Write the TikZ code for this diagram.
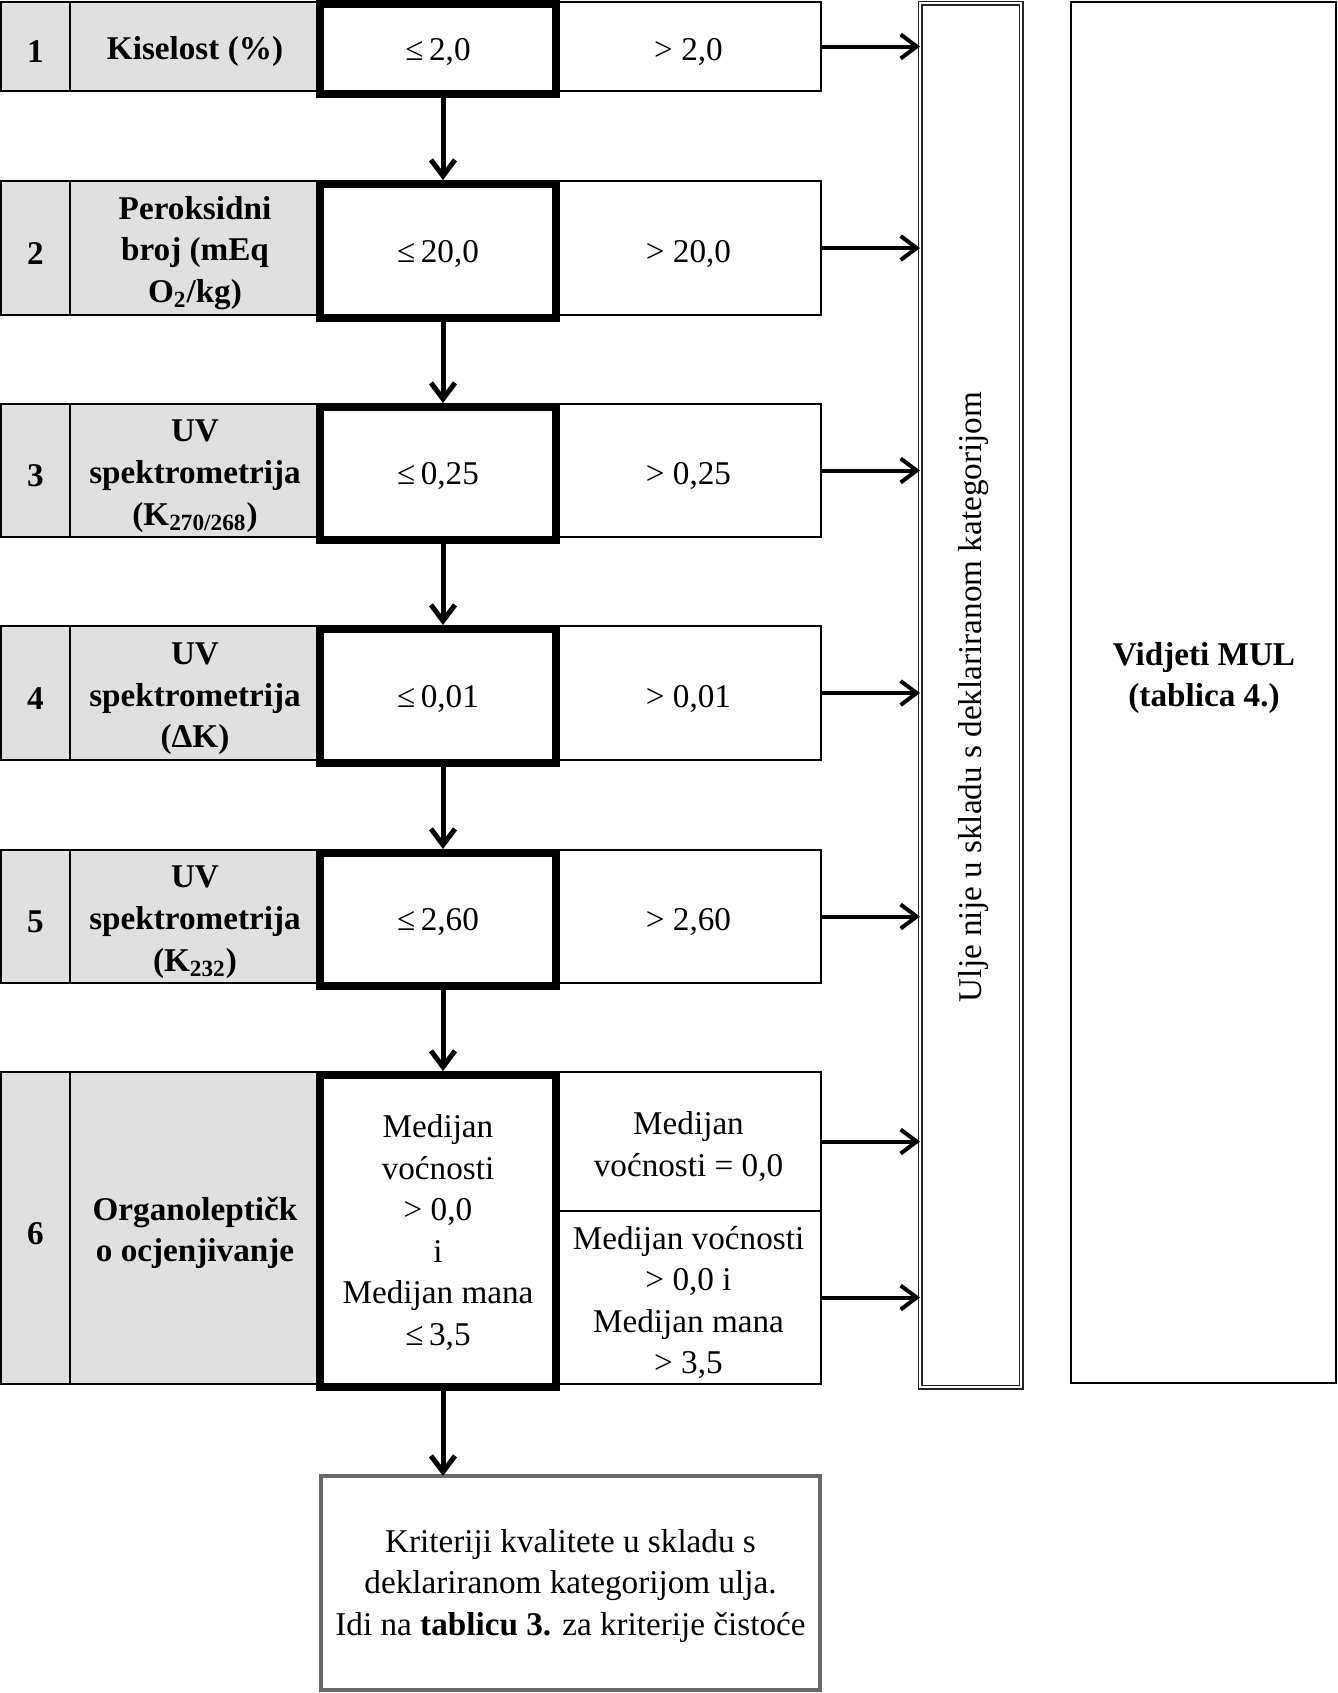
\documentclass[tikz,border=0pt]{standalone}
\usepackage{fontspec}
\setmainfont{Liberation Serif}
\usetikzlibrary{arrows.meta}
\definecolor{cellgray}{RGB}{224,224,224}
\definecolor{boxgray}{RGB}{105,105,105}
\newcommand\mkcell[7]{\node[#6, minimum width={((#4)-(#2))*0.5pt}, minimum height={((#5)-(#3))*0.5pt}] (#1) at ({((#2)+(#4))/2},{((#3)+(#5))/2}) {#7};}
\newcommand\cellstrut{\rule[-0.6pt]{0pt}{17.6pt}}
\newcommand\passstrut{\rule[-0.6pt]{0pt}{14.6pt}}
\newcommand\mls{\rule{0pt}{16.6pt}}
\begin{document}
\begin{tikzpicture}[x=0.5pt,y=-0.5pt,
  every node/.style={font=\fontsize{16.6}{20.8}\selectfont, inner sep=0pt, outer sep=0pt, align=center},
  std/.style={execute at begin node=\cellstrut, execute at end node=\cellstrut},
  numcell/.style={std, draw, line width=1pt, fill=cellgray, font=\fontsize{16.6}{20.8}\selectfont\bfseries},
  labcell/.style={numcell},
  failcell/.style={std, draw, line width=1pt, fill=white},
  passcell/.style={draw, line width=4pt, fill=white, outer sep=2pt,
    execute at begin node=\passstrut, execute at end node=\passstrut},
  tallbox/.style={draw=black!85, double, double distance=1.3pt, line width=0.6pt},
  sidebox/.style={draw, line width=1pt},
  endbox/.style={draw=boxgray, line width=2pt},
  downarr/.style={line width=2.5pt, -{Straight Barb[length=8pt,width=12pt]}},
  sidearr/.style={line width=2pt, -{Straight Barb[length=8pt,width=12pt]}},
]
\useasboundingbox (0,0) rectangle (1338,1693);

% right boxes
\mkcell{tall}{920}{3}{1021}{1387}{tallbox}{}
\node[rotate=90] (tallt) at (974,697) {Ulje nije u skladu s deklariranom kategorijom};
\mkcell{mul}{1071}{2}{1336}{1383}{sidebox}{}
\node[font=\fontsize{16.6}{20.8}\selectfont\bfseries] (mult) at (1204,673) {\mls Vidjeti MUL\\(tablica 4.)};

% row 1
\mkcell{n1}{1}{2}{70}{91}{numcell}{1}
\mkcell{l1}{70}{2}{320}{91}{labcell}{Kiselost (\%)}
\mkcell{f1}{556}{2}{821}{91}{failcell}{> 2,0}
\mkcell{c1}{320}{2+2}{556}{91+3}{passcell}{≤\,2,0}

% row 2
\mkcell{n2}{1}{181}{70}{315}{numcell}{2}
\mkcell{l2}{70}{181}{320}{315}{labcell}{\mls Peroksidni\\broj (mEq\\O\textsubscript{2}/kg)}
\mkcell{f2}{556}{181}{821}{315}{failcell}{> 20,0}
\mkcell{c2}{320}{181+3}{556}{315+3}{passcell}{≤\,20,0}

% row 3
\mkcell{n3}{1}{404}{70}{537}{numcell}{3}
\mkcell{l3}{70}{404}{320}{537}{labcell}{\mls UV\\spektrometrija\\(K\textsubscript{270/268})}
\mkcell{f3}{556}{404}{821}{537}{failcell}{> 0,25}
\mkcell{c3}{320}{404+3}{556}{537+3}{passcell}{≤\,0,25}

% row 4
\mkcell{n4}{1}{626}{70}{760}{numcell}{4}
\mkcell{l4}{70}{626}{320}{760}{labcell}{\mls UV\\spektrometrija\\(ΔK)}
\mkcell{f4}{556}{626}{821}{760}{failcell}{> 0,01}
\mkcell{c4}{320}{626+3}{556}{760+3}{passcell}{≤\,0,01}

% row 5
\mkcell{n5}{1}{850}{70}{983}{numcell}{5}
\mkcell{l5}{70}{850}{320}{983}{labcell}{\mls UV\\spektrometrija\\(K\textsubscript{232})}
\mkcell{f5}{556}{850}{821}{983}{failcell}{> 2,60}
\mkcell{c5}{320}{850+3}{556}{983+3}{passcell}{≤\,2,60}

% row 6
\mkcell{n6}{1}{1072}{70}{1384}{numcell}{6}
\mkcell{l6}{70}{1072}{320}{1384}{labcell}{\mls Organoleptičk\\o ocjenjivanje}
\mkcell{f6a}{556}{1072}{821}{1211}{failcell}{\mls Medijan\\voćnosti = 0,0}
\mkcell{f6b}{556}{1211}{821}{1384}{failcell}{\mls Medijan voćnosti\\> 0,0 i\\Medijan mana\\> 3,5}
\mkcell{c6}{320}{1072+3}{556}{1384+3}{passcell}{\rule{0pt}{13pt}Medijan\\voćnosti\\> 0,0\\i\\Medijan mana\\≤\,3,5}

% final box
\mkcell{fin}{321}{1476}{820}{1690}{endbox}{\rule{0pt}{14.5pt}Kriteriji kvalitete u skladu s\\deklariranom kategorijom ulja.\\Idi na \textbf{tablicu 3.} za kriterije čistoće}

% arrows down
\coordinate (ax) at (443,0);
\draw[downarr] (c1.south -| ax) -- (c2.north -| ax);
\draw[downarr] (c2.south -| ax) -- (c3.north -| ax);
\draw[downarr] (c3.south -| ax) -- (c4.north -| ax);
\draw[downarr] (c4.south -| ax) -- (c5.north -| ax);
\draw[downarr] (c5.south -| ax) -- (c6.north -| ax);
\draw[downarr] (c6.south -| ax) -- (fin.north -| ax);

% arrows right
\foreach \f in {f1,f2,f3,f4,f5,f6a,f6b}
  \draw[sidearr] (\f.east) -- (tall.west |- \f.east);
\end{tikzpicture}
\end{document}
